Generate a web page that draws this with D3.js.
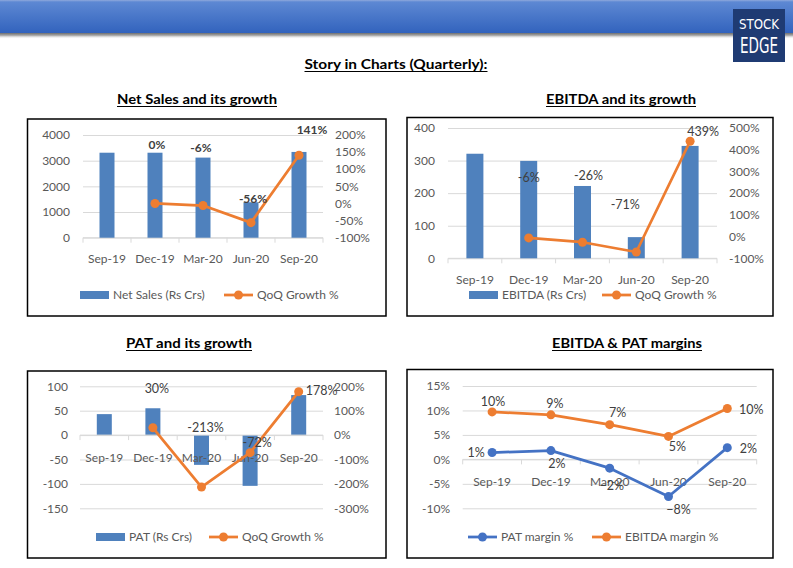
<!DOCTYPE html>
<html><head><meta charset="utf-8">
<script src="https://cdn.jsdelivr.net/npm/d3@7"></script>
<style>
html,body{margin:0;padding:0;background:#fff;}
svg{display:block;font-family:Lato,"Open Sans",sans-serif;}
</style></head>
<body>
<script>
// ---------------- DATA ----------------
const categories = ["Sep-19", "Dec-19", "Mar-20", "Jun-20", "Sep-20"];
const netSales = [3310, 3310, 3120, 1380, 3340];
const netSalesGrowth = [null, 0, -6, -56, 141];
const ebitda = [321, 299, 222, 65, 345];
const ebitdaGrowth = [null, -6, -26, -71, 439];
const pat = [43, 55, -61, -104, 82];
const patGrowth = [null, 30, -213, -72, 178];
const patMargin = [1.4, 1.8, -1.8, -7.6, 2.4];
const ebitdaMargin = [9.7, 9.1, 7.1, 4.7, 10.4];

const salesTicks = [0, 1000, 2000, 3000, 4000];
const salesGrowthTicks = [-100, -50, 0, 50, 100, 150, 200];
const ebitdaTicks = [0, 100, 200, 300, 400];
const ebitdaGrowthTicks = [-100, 0, 100, 200, 300, 400, 500];
const patTicks = [-150, -100, -50, 0, 50, 100];
const patGrowthTicks = [-300, -200, -100, 0, 100, 200];
const marginTicks = [-10, -5, 0, 5, 10, 15];

// ---------------- STYLE ----------------
const BLUE_BAR = "#4f81bd", BLUE_LINE = "#4472c4", ORANGE = "#ed7d31";
const AXIS_TXT = "#595959", LABEL_TXT = "#404040", GRID = "#d9d9d9";
const FONT = "Lato, 'Open Sans', sans-serif";

const svg = d3.select("body").append("svg").attr("width", 793).attr("height", 568);
const defs = svg.append("defs");
const hg = defs.append("linearGradient").attr("id", "hdr").attr("x1", 0).attr("y1", 0).attr("x2", 0).attr("y2", 1);
hg.append("stop").attr("offset", 0).attr("stop-color", "#8fa9dc");
hg.append("stop").attr("offset", 0.06).attr("stop-color", "#5d88d3");
hg.append("stop").attr("offset", 1).attr("stop-color", "#3263bd");
const sg = defs.append("linearGradient").attr("id", "shd").attr("x1", 0).attr("y1", 0).attr("x2", 0).attr("y2", 1);
sg.append("stop").attr("offset", 0).attr("stop-color", "#6f6f6f");
sg.append("stop").attr("offset", 0.4).attr("stop-color", "#a8a8a8");
sg.append("stop").attr("offset", 1).attr("stop-color", "#ffffff").attr("stop-opacity", 0);

// header
svg.append("rect").attr("x", 0).attr("y", 33).attr("width", 793).attr("height", 6).attr("fill", "url(#shd)");
svg.append("rect").attr("x", 0).attr("y", 0).attr("width", 793).attr("height", 33).attr("fill", "url(#hdr)");
// logo
svg.append("rect").attr("x", 733).attr("y", 9).attr("width", 52).attr("height", 53).attr("fill", "#1f3b73");
svg.append("text").attr("x", 759).attr("y", 29).attr("text-anchor", "middle")
  .attr("font-family", "'Liberation Sans Narrow','DejaVu Sans Condensed',sans-serif")
  .attr("font-size", 14).attr("fill", "#fff").attr("textLength", 40).attr("lengthAdjust", "spacingAndGlyphs").text("STOCK");
svg.append("text").attr("x", 759).attr("y", 53).attr("text-anchor", "middle")
  .attr("font-family", "'Liberation Sans Narrow','DejaVu Sans Condensed',sans-serif")
  .attr("font-size", 21).attr("fill", "#fff").attr("textLength", 38).attr("lengthAdjust", "spacingAndGlyphs").text("EDGE");

function title(txt, cx, y, w) {
  const t = svg.append("text").attr("x", cx).attr("y", y).attr("text-anchor", "middle")
    .attr("font-family", FONT).attr("font-weight", "bold").attr("font-size", 14).attr("fill", "#000")
    .attr("textLength", w).attr("lengthAdjust", "spacingAndGlyphs").text(txt);
  svg.append("line").attr("x1", cx - w / 2).attr("x2", cx + w / 2).attr("y1", y + 2.5).attr("y2", y + 2.5)
    .attr("stroke", "#000").attr("stroke-width", 1);
}
title("Story in Charts (Quarterly):", 396, 69, 183);
title("Net Sales and its growth", 197, 104, 160);
title("EBITDA and its growth", 621, 104, 150);
title("PAT and its growth", 189, 348, 126);
title("EBITDA & PAT margins", 627, 348, 150);

function box(x0, y0, x1, y1) {
  svg.append("rect").attr("x", x0).attr("y", y0).attr("width", x1 - x0).attr("height", y1 - y0)
    .attr("fill", "#fff").attr("stroke", "#000").attr("stroke-width", 1.5);
}
box(27.5, 119, 386, 316);
box(407, 117.5, 773, 316);
box(27.5, 371, 386, 558);
box(407, 369.5, 773, 558);

function txt(g, x, y, s, anchor, opt = {}) {
  return g.append("text").attr("x", x).attr("y", y).attr("dy", "0.35em").attr("text-anchor", anchor)
    .attr("font-family", FONT).attr("font-size", opt.size || 12).attr("fill", opt.fill || AXIS_TXT)
    .attr("font-weight", opt.bold ? "bold" : "normal").text(s);
}

function leftAxis(g, y, ticks, x0, x1, labelX, fmt) {
  const ax = d3.axisLeft(y).tickValues(ticks).tickSize(-(x1 - x0)).tickFormat("");
  const ga = g.append("g").attr("transform", `translate(${x1 - (x1 - x0)},0)`).call(ax);
  ga.select(".domain").remove();
  ga.selectAll(".tick line").attr("stroke", GRID).attr("stroke-width", 1).attr("transform", `translate(0,0)`)
    .attr("x1", 0).attr("x2", x1 - x0);
  ticks.forEach(t => txt(g, labelX, y(t), fmt(t), "end"));
}
function rightLabels(g, y, ticks, labelX) {
  ticks.forEach(t => txt(g, labelX, y(t), t + "%", "start"));
}
function catAxis(g, x, yAxis, labelY) {
  const xs = categories.map(c => x(c)).concat([x.range()[1]]);
  g.append("line").attr("x1", x.range()[0]).attr("x2", x.range()[1]).attr("y1", yAxis).attr("y2", yAxis)
    .attr("stroke", GRID).attr("stroke-width", 1);
  xs.forEach(v => g.append("line").attr("x1", v).attr("x2", v).attr("y1", yAxis).attr("y2", yAxis + 5)
    .attr("stroke", GRID).attr("stroke-width", 1));
}
function catLabels(g, x, labelY) {
  categories.forEach(c => txt(g, x(c) + x.bandwidth() / 2, labelY, c, "middle"));
}
function drawLine(g, x, y, vals, color) {
  const pts = vals.map((v, i) => ({ v, c: categories[i] })).filter(d => d.v !== null);
  const line = d3.line().x(d => x(d.c) + x.bandwidth() / 2).y(d => y(d.v));
  g.append("path").datum(pts).attr("d", line).attr("fill", "none").attr("stroke", color)
    .attr("stroke-width", 2.75).attr("stroke-linejoin", "round").attr("stroke-linecap", "round");
  g.selectAll(null).data(pts).enter().append("circle")
    .attr("cx", d => x(d.c) + x.bandwidth() / 2).attr("cy", d => y(d.v)).attr("r", 4.5).attr("fill", color);
  return pts;
}
function drawLabels(g, x, y, pts, nudges, fmt, opt) {
  pts.forEach((d, i) => {
    const n = nudges[i];
    txt(g, x(d.c) + x.bandwidth() / 2 + n[0], y(d.v) + n[1], fmt(d.v), "middle", opt);
  });
}
function barLegend(g, x, y, label) {
  g.append("rect").attr("x", x).attr("y", y - 4).attr("width", 29).attr("height", 8).attr("fill", BLUE_BAR);
  txt(g, x + 33, y, label, "start");
}
function lineLegend(g, x, y, label, color) {
  g.append("line").attr("x1", x).attr("x2", x + 29).attr("y1", y).attr("y2", y).attr("stroke", color).attr("stroke-width", 2.75);
  g.append("circle").attr("cx", x + 14.5).attr("cy", y).attr("r", 4.5).attr("fill", color);
  txt(g, x + 33, y, label, "start");
}
function bars(g, x, y, vals, w) {
  g.selectAll(null).data(vals.map((v, i) => ({ v, c: categories[i] }))).enter().append("rect")
    .attr("x", d => x(d.c) + x.bandwidth() / 2 - w / 2)
    .attr("y", d => Math.min(y(d.v), y(0)))
    .attr("width", w)
    .attr("height", d => Math.abs(y(d.v) - y(0)))
    .attr("fill", BLUE_BAR);
}
const pct = v => v + "%";
const pctR = v => d3.format(".0f")(v) + "%";

// ---------------- CHART 1: Net Sales ----------------
{
  const g = svg.append("g");
  const x = d3.scaleBand().domain(categories).range([83, 323]);
  const y = d3.scaleLinear().domain([0, 4000]).range([237.7, 135]);
  const y2 = d3.scaleLinear().domain([-100, 200]).range([237.7, 135]);
  leftAxis(g, y, salesTicks, 83, 323, 70, d => d);
  rightLabels(g, y2, salesGrowthTicks, 335);
  catAxis(g, x, y(0));
  bars(g, x, y, netSales, 15);
  catLabels(g, x, 259);
  const pts = drawLine(g, x, y2, netSalesGrowth, ORANGE);
  drawLabels(g, x, y2, pts, [[2, -59], [-2, -58], [2, -24], [13, -25]], pct, { bold: true, fill: LABEL_TXT });
  barLegend(g, 80, 295, "Net Sales (Rs Crs)");
  lineLegend(g, 224, 295, "QoQ Growth %", ORANGE);
}
// ---------------- CHART 2: EBITDA ----------------
{
  const g = svg.append("g");
  const x = d3.scaleBand().domain(categories).range([448, 717]);
  const y = d3.scaleLinear().domain([0, 400]).range([258.3, 128]);
  const y2 = d3.scaleLinear().domain([-100, 500]).range([258.3, 128]);
  leftAxis(g, y, ebitdaTicks, 448, 717, 435, d => d);
  rightLabels(g, y2, ebitdaGrowthTicks, 729);
  catAxis(g, x, y(0));
  bars(g, x, y, ebitda, 17);
  catLabels(g, x, 280);
  const pts = drawLine(g, x, y2, ebitdaGrowth, ORANGE);
  drawLabels(g, x, y2, pts, [[0, -60], [6, -67], [-11, -47], [13, -10]], pct, { size: 12.5, fill: LABEL_TXT });
  barLegend(g, 469, 295, "EBITDA (Rs Crs)");
  lineLegend(g, 602, 295, "QoQ Growth %", ORANGE);
}
// ---------------- CHART 3: PAT ----------------
{
  const g = svg.append("g");
  const x = d3.scaleBand().domain(categories).range([80, 323]);
  const y = d3.scaleLinear().domain([-150, 100]).range([508.3, 386.3]);
  const y2 = d3.scaleLinear().domain([-300, 200]).range([508.3, 386.3]);
  leftAxis(g, y, patTicks, 80, 323, 68, d => d);
  rightLabels(g, y2, patGrowthTicks, 334);
  bars(g, x, y, pat, 15);
  catAxis(g, x, y(0));
  catLabels(g, x, 457.5);
  const pts = drawLine(g, x, y2, patGrowth, ORANGE);
  drawLabels(g, x, y2, pts, [[4, -39], [4, -59], [7, -10], [23, -1]], pct, { size: 12.5, fill: LABEL_TXT });
  barLegend(g, 96, 537, "PAT (Rs Crs)");
  lineLegend(g, 209, 537, "QoQ Growth %", ORANGE);
}
// ---------------- CHART 4: Margins ----------------
{
  const g = svg.append("g");
  const x = d3.scaleBand().domain(categories).range([462.7, 756.7]);
  const y = d3.scaleLinear().domain([-10, 15]).range([508.3, 386]);
  leftAxis(g, y, marginTicks, 462.7, 756.7, 450, d => d + "%");
  catAxis(g, x, y(0));
  catLabels(g, x, 481.5);
  const pE = drawLine(g, x, y, ebitdaMargin, ORANGE);
  const pP = drawLine(g, x, y, patMargin, BLUE_LINE);
  drawLabels(g, x, y, pE, [[1, -10], [4, -11], [8, -12], [9, 10], [24, 1]], pctR, { size: 12.5, fill: LABEL_TXT });
  drawLabels(g, x, y, pP, [[-16, 0], [6, 13], [2, 17], [10, 13], [21, 1]], pctR, { size: 12.5, fill: LABEL_TXT });
  lineLegend(g, 468, 537, "PAT margin %", BLUE_LINE);
  lineLegend(g, 592, 537, "EBITDA margin %", ORANGE);
}
</script>
</body></html>
